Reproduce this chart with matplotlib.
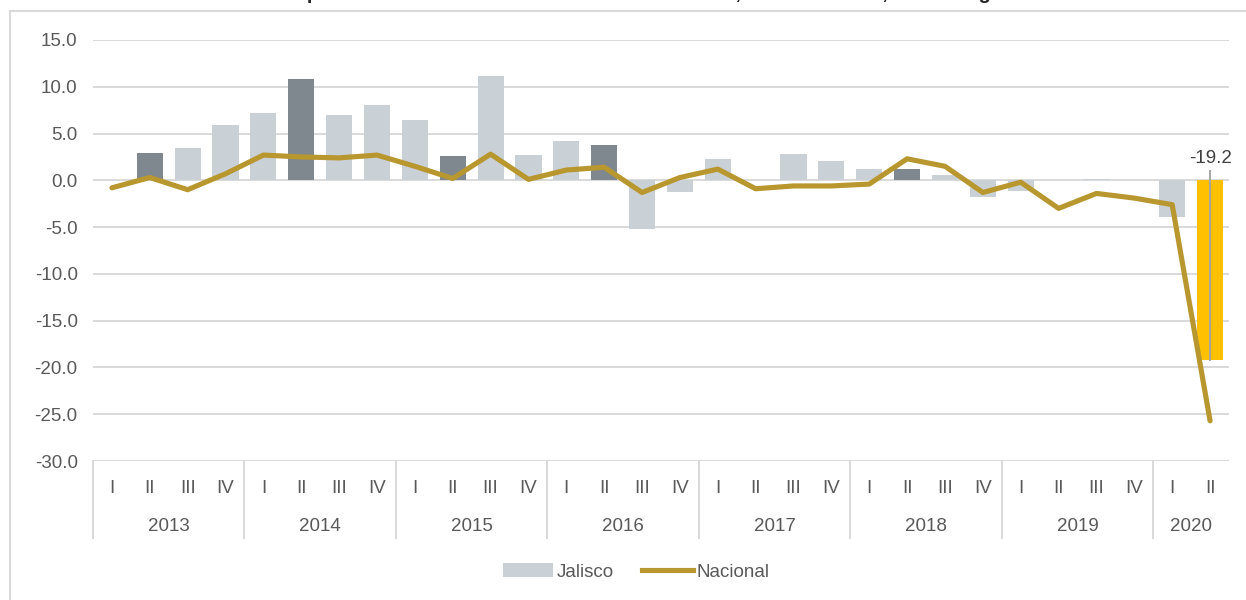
import matplotlib
matplotlib.use("Agg")
import matplotlib.pyplot as plt
import matplotlib.transforms as mtransforms
from matplotlib.patches import Rectangle, Patch
from matplotlib.lines import Line2D

plt.rcParams['font.family'] = ['Liberation Sans', 'DejaVu Sans']

# ---------------- data ----------------
years = ["2013", "2014", "2015", "2016", "2017", "2018", "2019", "2020"]
quarters = ["I", "II", "III", "IV"] * 7 + ["I", "II"]
jalisco = [0.0, 2.9, 3.5, 5.9, 7.2, 10.8, 7.0, 8.0, 6.4, 2.6, 11.1, 2.7,
           4.2, 3.8, -5.2, -1.2, 2.3, 0.0, 2.8, 2.1, 1.2, 1.2, 0.6, -1.8,
           -1.1, 0.0, 0.1, 0.0, -3.9, -19.2]
nacional = [-0.8, 0.3, -1.0, 0.7, 2.7, 2.5, 2.4, 2.7, 1.5, 0.2, 2.8, 0.1,
            1.1, 1.4, -1.3, 0.3, 1.2, -0.9, -0.6, -0.6, -0.4, 2.3, 1.5, -1.3,
            -0.2, -3.0, -1.4, -1.9, -2.6, -25.7]
yticks = [15, 10, 5, 0, -5, -10, -15, -20, -25, -30]
title = "Variación porcentual anual de actividades secundarias, I 2013 - II 2020, cifras originales"

# ---------------- style ----------------
C_LIGHT = "#C9D0D6"
C_DARK = "#7F888E"
C_YEL = "#FFC000"
C_LINE = "#B8972F"
C_TXT = "#595959"
C_GRID = "#D9D9D9"
FS = 13.5

W, H = 1246, 600
fig = plt.figure(figsize=(W / 100, H / 100), dpi=100)
ax = fig.add_axes([93 / W, 1 - 461 / H, (1229 - 93) / W, (461 - 40) / H])

n = len(jalisco)
x = list(range(n))
colors = []
for i, q in enumerate(quarters):
    if i == n - 1:
        colors.append(C_YEL)
    elif q == "II":
        colors.append(C_DARK)
    else:
        colors.append(C_LIGHT)

ax.bar(x, jalisco, width=0.69, color=colors, zorder=2)
ax.plot(x, nacional, color=C_LINE, lw=3.7, zorder=3,
        solid_capstyle='round', solid_joinstyle='round')

ax.set_xlim(-0.5, n - 0.5)
ax.set_ylim(-30, 15)
ax.set_yticks(yticks)
ax.set_yticklabels([f"{v:.1f}" for v in yticks])
ax.tick_params(axis='y', length=0, pad=11, labelsize=FS, labelcolor=C_TXT)
ax.set_xticks([])
for s in ax.spines.values():
    s.set_visible(False)
for v in yticks:
    ax.axhline(v, color=C_GRID, lw=1.4, zorder=1)

# annotation for last bar
last = n - 1
ax.plot([last, last], [jalisco[last], 1.0], color="#A6A6A6", lw=1.4, zorder=4)
ax.text(last, 2.3, f"{jalisco[last]:.1f}", ha='center', va='center',
        fontsize=FS, color="#404040", zorder=5)

# category axis (two levels)
trans = mtransforms.blended_transform_factory(ax.transData, ax.transAxes)
for i, q in enumerate(quarters):
    ax.annotate(q, xy=(i, 0), xycoords=trans, xytext=(0, -19.5),
                textcoords='offset points', ha='center', va='center',
                fontsize=FS, color=C_TXT)
sep_depth = -(538 - 461) / (461 - 40)
bounds = [-0.5]
for k, yr in enumerate(years):
    start = 4 * k
    end = min(4 * k + 4, n)
    mid = (start + end - 1) / 2
    ax.annotate(yr, xy=(mid, 0), xycoords=trans, xytext=(0, -47.5),
                textcoords='offset points', ha='center', va='center',
                fontsize=FS, color=C_TXT)
    bounds.append(end - 0.5)
for b in bounds[:-1]:
    ax.plot([b, b], [0, sep_depth], transform=trans, color=C_GRID,
            lw=1.4, clip_on=False)

# legend
handles = [Patch(facecolor=C_LIGHT, edgecolor='none'),
           Line2D([0], [0], color=C_LINE, lw=3.7)]
fig.legend(handles, ["Jalisco", "Nacional"], loc='center',
           bbox_to_anchor=(636 / W, 1 - 572 / H), ncol=2, frameon=False,
           fontsize=FS, labelcolor=C_TXT, handlelength=2.7,
           handletextpad=0.2, columnspacing=1.5)

# outer border (partially cut)
fig.patches.append(Rectangle((9.5 / W, -0.1), 1.2, 1 - 11 / H + 0.1,
                             transform=fig.transFigure, fill=False,
                             ec=C_GRID, lw=1.5))

# title (only its lower edge shows, as in the reference)
fig.text(630 / W, 1 + 1 / H, title, ha='center', va='baseline',
         fontsize=14.5, fontweight='bold', color="#262626")

fig.savefig("out.png", dpi=100)
